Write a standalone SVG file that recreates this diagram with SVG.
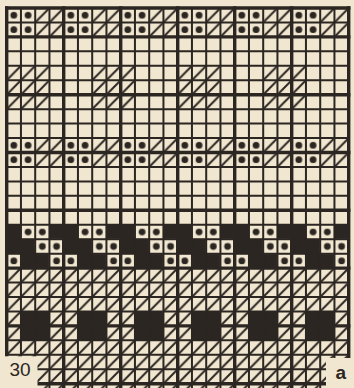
<svg xmlns="http://www.w3.org/2000/svg" width="354" height="388" viewBox="0 0 354 388">
<style>
.thin{stroke:#2b2622;stroke-width:2;fill:none}
.thick{stroke:#2b2622;stroke-width:3.4;fill:none}
.ink{fill:#2b2622}
.hatch{stroke:#2b2622;stroke-width:2}
.cell{fill:#f2e8d2}
.paper{fill:#f1e6cf}
.lbl{font-family:"Liberation Sans",Arial,sans-serif;fill:#2b2622}
</style>
<defs>
<pattern id="dg" patternUnits="userSpaceOnUse" x="6.7" y="8" width="14.25" height="14.45">
<line class="hatch" x1="0" y1="14.45" x2="14.25" y2="0"/>
</pattern>
<pattern id="dd" patternUnits="userSpaceOnUse" x="6.7" y="8" width="57" height="14.45">
<circle class="ink" cx="7.125" cy="7.225" r="3.4"/>
<circle class="ink" cx="21.375" cy="7.225" r="3.4"/>
<line class="hatch" x1="28.5" y1="14.45" x2="42.75" y2="0"/>
<line class="hatch" x1="42.75" y1="14.45" x2="57" y2="0"/>
</pattern>
<pattern id="band" patternUnits="userSpaceOnUse" x="6.7" y="224.75" width="57" height="43.35">
<rect class="ink" width="57" height="43.35"/>
<rect class="cell" x="14.25" y="0" width="28.5" height="14.45"/>
<rect class="cell" x="28.5" y="14.45" width="28.5" height="14.45"/>
<rect class="cell" x="0" y="28.9" width="14.25" height="14.45"/>
<rect class="cell" x="42.75" y="28.9" width="14.25" height="14.45"/>
<circle class="ink" cx="21.375" cy="7.225" r="3.4"/>
<circle class="ink" cx="35.625" cy="7.225" r="3.4"/>
<circle class="ink" cx="35.625" cy="21.675" r="3.4"/>
<circle class="ink" cx="49.875" cy="21.675" r="3.4"/>
<circle class="ink" cx="7.125" cy="36.125" r="3.4"/>
<circle class="ink" cx="49.875" cy="36.125" r="3.4"/>
</pattern>
</defs>
<rect class="paper" width="354" height="388"/>
<g id="motifs">
<rect id="dots-top" x="6.7" y="8" width="342" height="28.9" fill="url(#dd)"/>
<g id="diag-blocks" fill="url(#dg)">
<rect x="6.7" y="65.8" width="42.75" height="43.35"/>
<rect x="92.2" y="65.8" width="42.75" height="43.35"/>
<rect x="177.7" y="65.8" width="42.75" height="43.35"/>
<rect x="263.2" y="65.8" width="42.75" height="43.35"/>
</g>
<rect id="dots-mid" x="6.7" y="138.05" width="342" height="28.9" fill="url(#dd)"/>
<rect id="dark-band" x="6.7" y="224.75" width="342" height="43.35" fill="url(#band)"/>
<rect id="hatch-bottom" x="6.7" y="268.1" width="342" height="120" fill="url(#dg)"/>
<g id="squares" class="ink">
<rect x="20.95" y="311.45" width="28.5" height="28.9"/>
<rect x="77.95" y="311.45" width="28.5" height="28.9"/>
<rect x="134.95" y="311.45" width="28.5" height="28.9"/>
<rect x="191.95" y="311.45" width="28.5" height="28.9"/>
<rect x="248.95" y="311.45" width="28.5" height="28.9"/>
<rect x="305.95" y="311.45" width="28.5" height="28.9"/>
</g>
</g>
<g id="grid">
<path class="thin" d="M20.95 8V388M35.2 8V388M49.45 8V388M77.95 8V388M92.2 8V388M106.45 8V388M134.95 8V388M149.2 8V388M163.45 8V388M191.95 8V388M206.2 8V388M220.45 8V388M248.95 8V388M263.2 8V388M277.45 8V388M305.95 8V388M320.2 8V388M334.45 8V388"/>
<path class="thin" d="M6.7 22.45H348.7M6.7 51.35H348.7M6.7 65.8H348.7M6.7 80.25H348.7M6.7 109.15H348.7M6.7 123.6H348.7M6.7 138.05H348.7M6.7 166.95H348.7M6.7 181.4H348.7M6.7 195.85H348.7M6.7 224.75H348.7M6.7 239.2H348.7M6.7 253.65H348.7M6.7 282.55H348.7M6.7 297H348.7M6.7 311.45H348.7M6.7 340.35H348.7M6.7 354.8H348.7M6.7 369.25H348.7"/>
<path class="thick" d="M6.7 6.3V388M63.7 6.3V388M120.7 6.3V388M177.7 6.3V388M234.7 6.3V388M291.7 6.3V388M348.7 6.3V388"/>
<path class="thick" d="M5 8H350.4M5 36.9H350.4M5 94.7H350.4M5 152.5H350.4M5 210.3H350.4M5 268.1H350.4M5 325.9H350.4M5 383.7H350.4"/>
</g>
<g id="labels">
<rect class="paper" x="0" y="356.3" width="37.5" height="32"/>
<text class="lbl" x="9.5" y="376" font-size="19">30</text>
<rect class="paper" x="326" y="358" width="28" height="30"/>
<text class="lbl" x="335.5" y="379" font-size="19" font-weight="bold">a</text>
</g>
</svg>
